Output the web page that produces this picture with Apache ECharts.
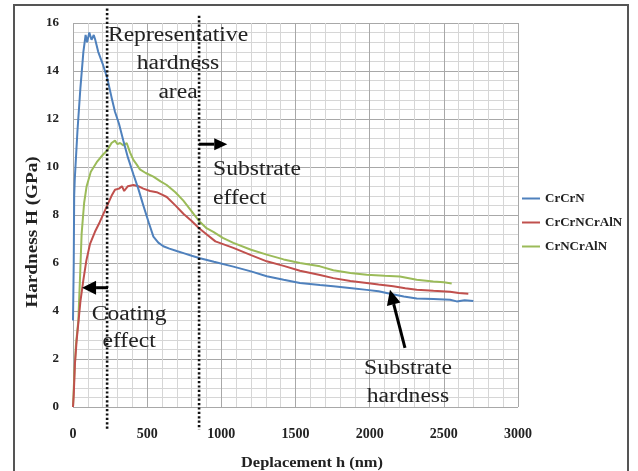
<!DOCTYPE html>
<html>
<head>
<meta charset="utf-8">
<script src="https://cdn.jsdelivr.net/npm/echarts@6/dist/echarts.min.js"></script>
<style>html,body{margin:0;padding:0;background:#fff;}#c{width:638px;height:471px;}</style>
</head>
<body>
<div id="c"></div>
<script>
const seriesNames = ['CrCrN', 'CrCrNCrAlN', 'CrNCrAlN'];
const xTicks = [0, 500, 1000, 1500, 2000, 2500, 3000];
const yTicks = [0, 2, 4, 6, 8, 10, 12, 14, 16];
const xTitle = 'Deplacement h (nm)';
const yTitle = 'Hardness H (GPa)';

const xCrCrN = [0,5,8,12,30,50,70,85,95,110,125,140,150,170,200,231,260,283,310,339,370,407,440,474,510,542,575,609,650,699,750,800,856,950,1081,1200,1306,1420,1530,1665,1755,1880,1980,2060,2137,2230,2317,2430,2542,2587,2640,2699];
const yCrCrN = [3.6,6.0,8.8,9.5,11.5,13.3,14.8,15.5,15.2,15.6,15.3,15.5,15.3,14.8,14.3,13.7,12.9,12.3,11.8,11.1,10.4,9.7,9.1,8.4,7.7,7.1,6.85,6.7,6.6,6.5,6.4,6.3,6.2,6.05,5.85,5.65,5.45,5.3,5.17,5.08,5.03,4.95,4.88,4.82,4.72,4.6,4.52,4.5,4.47,4.4,4.45,4.42];

const xCrCrNCrAlN = [0,5,13,25,36,50,70,90,115,148,180,231,260,283,310,330,345,370,407,440,474,520,564,600,632,690,744,800,850,900,960,1081,1200,1306,1420,1530,1665,1755,1870,1980,2060,2159,2240,2317,2430,2542,2600,2665];
const yCrCrNCrAlN = [0,0.5,1.8,2.8,3.5,4.4,5.3,6.1,6.8,7.3,7.7,8.4,8.8,9.05,9.1,9.2,9.0,9.2,9.25,9.2,9.1,9.0,8.95,8.85,8.75,8.4,8.05,7.75,7.45,7.2,6.9,6.63,6.33,6.07,5.88,5.68,5.5,5.37,5.25,5.17,5.1,5.03,4.95,4.89,4.84,4.8,4.75,4.72];

const xCrNCrAlN = [0,10,20,36,48,58,75,92,120,160,200,231,260,283,300,317,340,362,385,407,430,451,490,542,590,632,690,744,800,850,900,946,1010,1081,1200,1306,1420,1530,1665,1755,1870,1980,2100,2204,2317,2429,2500,2553];
const yCrNCrAlN = [0,1.5,2.6,3.6,5.5,7.2,8.5,9.2,9.8,10.2,10.5,10.7,11.0,11.1,10.95,11.0,10.9,11.0,10.6,10.3,10.1,9.9,9.75,9.6,9.4,9.25,8.95,8.6,8.15,7.75,7.45,7.3,7.05,6.84,6.55,6.35,6.15,6.0,5.86,5.7,5.58,5.51,5.47,5.44,5.3,5.23,5.2,5.15];

const colors = ['#4f81bd', '#c0504d', '#9bbb59'];
const zip = (xs, ys) => xs.map((x, i) => [x, ys[i]]);
const dataSets = [zip(xCrCrN, yCrCrN), zip(xCrCrNCrAlN, yCrCrNCrAlN), zip(xCrNCrAlN, yCrNCrAlN)];

const serif = '"Liberation Serif", "DejaVu Serif", serif';

const chart = echarts.init(document.getElementById('c'), null, {renderer: 'canvas'});
const option = {
  animation: false,
  backgroundColor: '#fff',
  grid: {left: 73, right: 120, top: 23, bottom: 64, containLabel: false},
  legend: {
    orient: 'vertical', left: 517, top: 187, itemGap: 11,
    itemWidth: 18, itemHeight: 2, icon: 'rect',
    textStyle: {fontFamily: serif, fontWeight: 'bold', fontSize: 13, color: '#222'},
    data: seriesNames
  },
  xAxis: {
    type: 'value', min: xTicks[0], max: xTicks[xTicks.length - 1], interval: 500,
    axisLine: {show: false}, axisTick: {show: false},
    axisLabel: {fontFamily: serif, fontWeight: 'bold', fontSize: 14, color: '#222', margin: 20,
      formatter: v => String(v)},
    splitLine: {show: true, lineStyle: {color: '#a8a8a8', width: 1}},
    minorTick: {show: false, splitNumber: 5},
    minorSplitLine: {show: true, lineStyle: {color: '#d6d6d6', width: 1}}
  },
  yAxis: {
    type: 'value', min: yTicks[0], max: yTicks[yTicks.length - 1], interval: 2,
    axisLine: {show: false}, axisTick: {show: false},
    axisLabel: {fontFamily: serif, fontWeight: 'bold', fontSize: 13, color: '#222', margin: 14},
    splitLine: {show: true, lineStyle: {color: '#a8a8a8', width: 1}},
    minorTick: {show: false, splitNumber: 5},
    minorSplitLine: {show: true, lineStyle: {color: '#d6d6d6', width: 1}}
  },
  series: seriesNames.map((n, i) => ({
    name: n, type: 'line', data: dataSets[i], showSymbol: false,
    lineStyle: {color: colors[i], width: 2}, itemStyle: {color: colors[i]},
    z: 3 - i
  }))
};
chart.setOption(option);

const P = (x, y) => chart.convertToPixel({xAxisIndex: 0, yAxisIndex: 0}, [x, y]);
const els = [];
// outer frame
els.push({type: 'rect', shape: {x: 14, y: 5, width: 614, height: 480}, style: {fill: null, stroke: '#555', lineWidth: 2}, z: 10});
// axis titles (stretched like the reference)
els.push({type: 'text', x: 312, y: 463, scaleX: 1.17, style: {text: xTitle, font: 'bold 14px ' + serif, fill: '#222', align: 'center', verticalAlign: 'middle'}, z: 12});
els.push({type: 'text', x: 33, y: 232, rotation: Math.PI / 2, scaleX: 1.2, style: {text: yTitle, font: 'bold 16px ' + serif, fill: '#222', align: 'center', verticalAlign: 'middle'}, z: 12});
// dotted boundary lines
[[230, 16.6, -1.0], [850, 16.3, -0.95]].forEach(([x, y1, y2]) => {
  const a = P(x, y1), b = P(x, y2);
  els.push({type: 'line', shape: {x1: a[0], y1: a[1], x2: b[0], y2: b[1]}, style: {stroke: '#111', lineWidth: 2.6, lineDash: [2.2, 2.2]}, z: 10});
});
// arrows
function arrow(from, to, head, half) {
  const a = P(from[0], from[1]), b = P(to[0], to[1]);
  const dx = b[0] - a[0], dy = b[1] - a[1], L = Math.hypot(dx, dy);
  const ux = dx / L, uy = dy / L;
  const bx = b[0] - ux * head, by = b[1] - uy * head;
  els.push({type: 'line', shape: {x1: a[0], y1: a[1], x2: bx, y2: by}, style: {stroke: '#000', lineWidth: 3}, z: 11});
  els.push({type: 'polygon', shape: {points: [[b[0], b[1]], [bx - uy * half, by + ux * half], [bx + uy * half, by - ux * half]]}, style: {fill: '#000'}, z: 11});
}
arrow([850, 10.95], [1040, 10.95], 13, 6);
arrow([236, 4.97], [61, 4.97], 14, 7);
arrow([2238, 2.46], [2137, 4.89], 15, 7);
// annotation texts
function label(x, y, text, align, lh) {
  const p = P(x, y);
  els.push({type: 'text', x: p[0], y: p[1], scaleX: 1.18, style: {text: text, font: '20px ' + serif, fill: '#222', align: align, verticalAlign: 'middle', lineHeight: lh}, z: 12});
}
label(708, 14.3, 'Representative\nhardness\narea', 'center', 28.5);
label(944, 9.3, 'Substrate\neffect', 'left', 29);
label(378, 3.27, 'Coating\neffect', 'center', 27);
label(2258, 1.0, 'Substrate\nhardness', 'center', 28);
chart.setOption({graphic: {elements: els}});
</script>
</body>
</html>
